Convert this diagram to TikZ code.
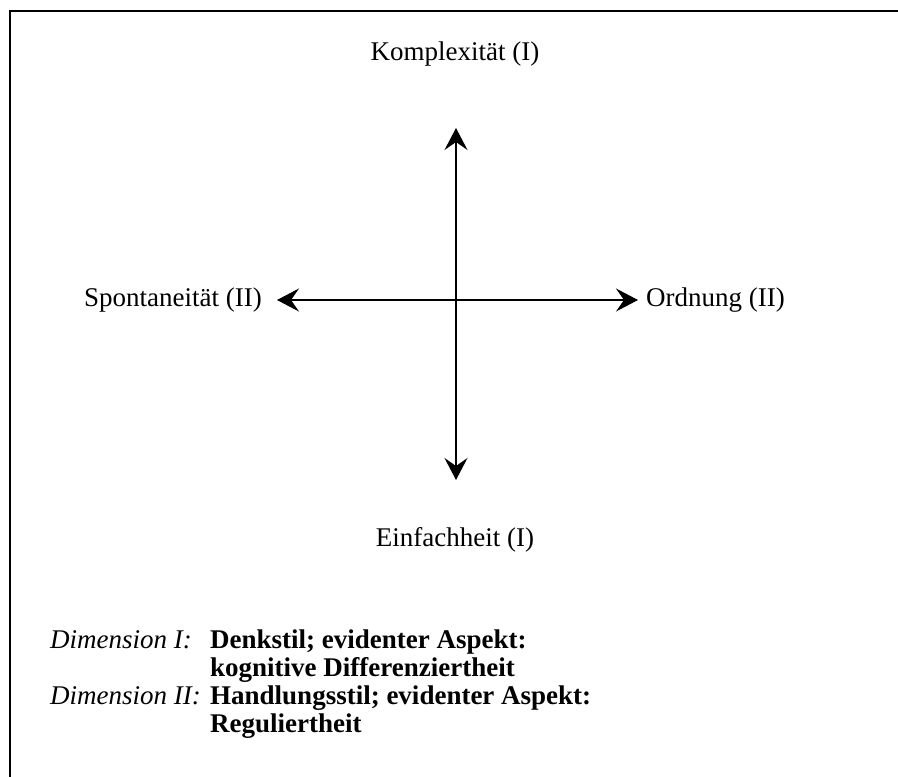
\documentclass[tikz,border=0pt]{standalone}
\usepackage{fontspec}
\setmainfont{Liberation Serif}
\usetikzlibrary{arrows.meta}

\begin{document}
\begin{tikzpicture}[x=1pt,y=-1pt,
    lbl/.style={inner sep=0pt,font=\fontsize{27}{27}\selectfont},
    dimlbl/.style={lbl,anchor=base west,font=\fontsize{27}{27}\selectfont\itshape},
    dimtxt/.style={lbl,anchor=base west,font=\fontsize{27}{27}\selectfont\bfseries},
    axis/.style={line width=1.4pt,{Stealth[length=22pt,width=23pt,inset=8pt]}-{Stealth[length=22pt,width=23pt,inset=8pt]}}]
  \useasboundingbox (0,0) rectangle (898,777);

  % Frame
  \draw[line width=1.2pt] (10,777) -- (10,11) -- (898,11);

  % Axis ends
  \coordinate (top) at (456,128);
  \coordinate (bottom) at (456,480);
  \coordinate (left) at (277,300);
  \coordinate (right) at (638,300);

  % Axis
  \draw[axis] (bottom) -- (top);
  \draw[axis] (left) -- (right);

  % Poles
  \node[lbl] (komplex) at (455,54) {Komplexität (I)};
  \node[lbl] (einfach) at (455,540) {Einfachheit (I)};
  \node[lbl,anchor=east] (spont) at (262,300) {Spontaneität (II)};
  \node[lbl,anchor=west] (ordnung) at (646,300) {Ordnung (II)};

  % Legend
  \node[dimlbl] (dimA) at (50,648) {Dimension I:};
  \node[dimtxt] (dimAa) at (210,648) {Denkstil; evidenter Aspekt:};
  \node[dimtxt] (dimAb) at (210,676) {kognitive Differenziertheit};
  \node[dimlbl] (dimB) at (50,704) {Dimension II:};
  \node[dimtxt] (dimBa) at (210,704) {Handlungsstil; evidenter Aspekt:};
  \node[dimtxt] (dimBb) at (210,732) {Reguliertheit};
\end{tikzpicture}
\end{document}
